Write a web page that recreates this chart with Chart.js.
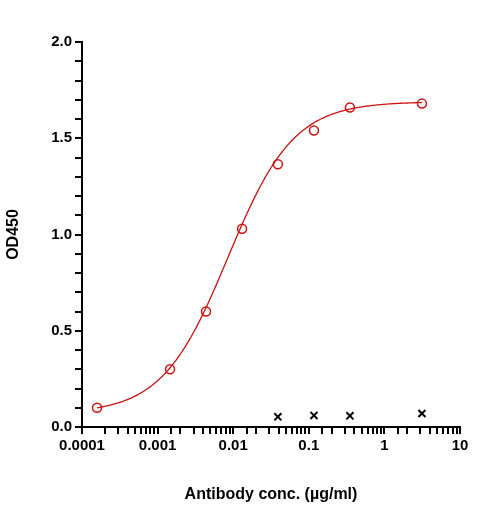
<!DOCTYPE html>
<html><head><meta charset="utf-8">
<script src="https://cdn.jsdelivr.net/npm/chart.js@4/dist/chart.umd.min.js"></script>
<style>body{margin:0;background:#fff}#wrap{width:485px;height:508px}</style>
</head><body><div id="wrap"><canvas id="c"></canvas></div>
<script>
const concRed = [0.000158, 0.00146, 0.00437, 0.0131, 0.039, 0.117, 0.35, 3.14];
const odRed = [0.10, 0.30, 0.60, 1.03, 1.365, 1.54, 1.66, 1.68];
const concBlack = [0.039, 0.117, 0.35, 3.14];
const odBlack = [0.053, 0.06, 0.058, 0.07];
const xTickLabels = ['0.0001', '0.001', '0.01', '0.1', '1', '10'];
const yTickLabels = ['0.0', '0.5', '1.0', '1.5', '2.0'];
// 4PL fit parameters for the red curve
const fitBottom = 0.07, fitTop = 1.69, fitEC50 = 0.0085, fitHill = 1.0;

const curve = [];
for (let e = -3.8; e <= 0.5001; e += 0.02) {
    const x = Math.pow(10, e);
    curve.push({ x, y: fitBottom + (fitTop - fitBottom) / (1 + Math.pow(fitEC50 / x, fitHill)) });
}

const font = { family: 'Arial, "Liberation Sans"', size: 15, weight: 'bold' };
const isMajor = (v) => Math.abs(Math.log10(v) - Math.round(Math.log10(v))) < 1e-6;

new Chart(document.getElementById('c'), {
    type: 'scatter',
    data: {
        datasets: [
            { type: 'line', data: curve, borderColor: '#cc1111', borderWidth: 1.3, pointRadius: 0, fill: false },
            { data: concRed.map((x, i) => ({ x, y: odRed[i] })), pointStyle: 'circle', pointRadius: 4.5,
              borderColor: '#cc1111', backgroundColor: 'rgba(0,0,0,0)', borderWidth: 1.5 },
            { data: concBlack.map((x, i) => ({ x, y: odBlack[i] })), pointStyle: 'cross', rotation: 45, pointRadius: 5,
              borderColor: '#000', borderWidth: 2 },
        ],
    },
    options: {
        responsive: true, maintainAspectRatio: false, animation: false,
        layout: { padding: { top: 42, right: 25, left: 0, bottom: 0 } },
        plugins: { legend: { display: false }, tooltip: { enabled: false } },
        scales: {
            x: {
                type: 'logarithmic', min: 0.0001, max: 10,
                afterFit: (s) => { s.height = 81; },
                border: { color: '#000', width: 2 },
                grid: { drawOnChartArea: false, color: '#000', lineWidth: 2,
                        tickLength: 7 },
                ticks: { color: '#000', font, autoSkip: false, maxRotation: 0,
                         callback: (v) => isMajor(v) ? xTickLabels[Math.round(Math.log10(v)) + 4] : '' },
                title: { display: true, text: 'Antibody conc. (µg/ml)', color: '#000', font: { ...font, size: 16 } },
            },
            y: {
                min: 0, max: 2,
                afterFit: (s) => { s.width = 82; },
                border: { color: '#000', width: 2 },
                grid: { drawOnChartArea: false, color: '#000', lineWidth: 2, tickLength: 7 },
                ticks: { color: '#000', font, stepSize: 0.1, autoSkip: false,
                         callback: (v) => { const i = Math.round(v * 10); return i % 5 === 0 ? yTickLabels[i / 5] : ''; } },
                title: { display: true, text: 'OD450', color: '#000', font: { ...font, size: 16 } },
            },
        },
    },
});
</script></body></html>
